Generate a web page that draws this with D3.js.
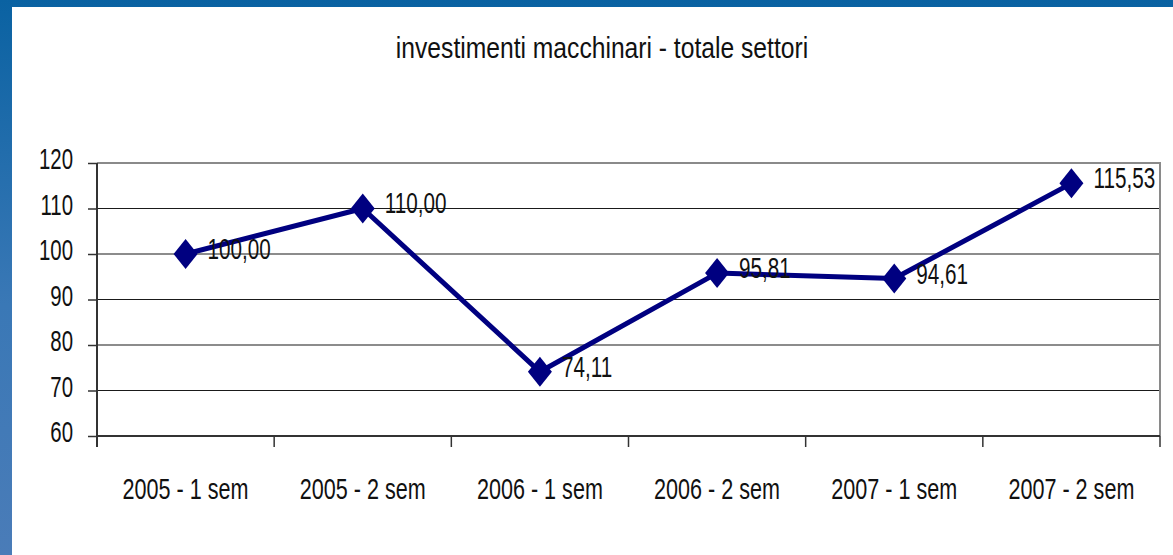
<!DOCTYPE html>
<html>
<head>
<meta charset="utf-8">
<script src="https://cdn.jsdelivr.net/npm/d3@7"></script>
<style>
  body { margin: 0; background: #fff; }
  text { font-family: 'Liberation Sans', Arial, sans-serif; fill: #111; }
</style>
</head>
<body>
<svg class="chart"></svg>
<script>
// Chart data
var categories = ['2005 - 1 sem', '2005 - 2 sem', '2006 - 1 sem', '2006 - 2 sem', '2007 - 1 sem', '2007 - 2 sem'];
var values = [100.00, 110.00, 74.11, 95.81, 94.61, 115.53];
var yTicks = [60, 70, 80, 90, 100, 110, 120];
var title = 'investimenti macchinari - totale settori';

// Global setup
var W = 1173, H = 555;
var margin = {top: 163, right: 13, bottom: 119, left: 97};
var width = W - margin.left - margin.right;
var height = H - margin.top - margin.bottom;
var fmt = function (v) { return v.toFixed(2).replace('.', ','); };

// The original font is a narrow one: squeeze text horizontally
function squeeze (sel, f) {
  sel.each(function () {
    var t = d3.select(this);
    t.attr('x', (+t.attr('x') || 0) / f).attr('transform', 'scale(' + f + ',1)');
  });
}

var svg = d3.select('.chart').attr('width', W).attr('height', H);

// Blue slide background and white panel
var grad = svg.append('defs').append('linearGradient')
  .attr('id', 'bg').attr('x1', 0).attr('y1', 0).attr('x2', 0).attr('y2', 1);
grad.append('stop').attr('offset', '0%').attr('stop-color', '#0a62a2');
grad.append('stop').attr('offset', '55%').attr('stop-color', '#3a78b6');
grad.append('stop').attr('offset', '100%').attr('stop-color', '#4a7cb8');
svg.append('rect').attr('width', W).attr('height', H).attr('fill', 'url(#bg)');
svg.append('rect').attr('x', 12).attr('y', 7).attr('width', W - 12).attr('height', H - 7).attr('fill', '#fff');

svg.append('text')
  .attr('x', 602).attr('y', 58)
  .attr('text-anchor', 'middle')
  .style('font-size', '29px')
  .text(title)
  .call(squeeze, 0.85);

var x = d3.scaleBand().domain(categories).range([0, width]);
var y = d3.scaleLinear().domain([60, 120]).range([height, 0]);

var g = svg.append('g').attr('transform', 'translate(' + margin.left + ',' + margin.top + ')');

// Gridlines
g.selectAll('.grid')
  .data(yTicks.slice(1, -1))
  .enter().append('line')
  .attr('x1', 0).attr('x2', width)
  .attr('y1', function (d) { return y(d); }).attr('y2', function (d) { return y(d); })
  .attr('stroke', '#1a1a1a').attr('stroke-width', 1.2);

// Top and right border
g.append('path')
  .attr('d', 'M0,' + y(120) + 'H' + width + 'V' + height)
  .attr('fill', 'none').attr('stroke', '#8a8a8a').attr('stroke-width', 2);

// Y axis
var yAxis = d3.axisLeft(y).tickValues(yTicks).tickSize(9).tickPadding(15);
var gy = g.append('g').call(yAxis);
gy.select('.domain').attr('stroke', '#333').attr('stroke-width', 2).attr('d', 'M0,' + y(120) + 'V' + (height + 11));
gy.selectAll('.tick line').attr('stroke', '#333').attr('stroke-width', 1.5);
gy.selectAll('.tick text')
  .style('font-size', '30px')
  .attr('dy', '0.19em')
  .call(squeeze, 0.68);

// X axis: ticks at category boundaries
var gx = g.append('g').attr('transform', 'translate(0,' + height + ')');
gx.append('line').attr('x1', 0).attr('x2', width).attr('stroke', '#333').attr('stroke-width', 2);
gx.selectAll('.xtick')
  .data(categories.concat(['end']))
  .enter().append('line')
  .attr('x1', function (d, i) { return i * x.step(); })
  .attr('x2', function (d, i) { return i * x.step(); })
  .attr('y1', 0).attr('y2', 11)
  .attr('stroke', '#333').attr('stroke-width', 1.5);
gx.selectAll('.xlabel')
  .data(categories)
  .enter().append('text')
  .attr('x', function (d) { return x(d) + x.bandwidth() / 2; })
  .attr('y', 63)
  .attr('text-anchor', 'middle')
  .style('font-size', '30px')
  .text(function (d) { return d; })
  .call(squeeze, 0.72);

// Line
var line = d3.line()
  .x(function (d, i) { return x(categories[i]) + x.bandwidth() / 2; })
  .y(function (d) { return y(d); });

g.append('path')
  .datum(values)
  .attr('d', line)
  .attr('fill', 'none')
  .attr('stroke', '#000080')
  .attr('stroke-width', 5)
  .attr('stroke-linejoin', 'round');

// Diamond markers
g.selectAll('.marker')
  .data(values)
  .enter().append('path')
  .attr('transform', function (d, i) {
    return 'translate(' + (x(categories[i]) + x.bandwidth() / 2) + ',' + y(d) + ')';
  })
  .attr('d', 'M0,-15L12,0L0,15L-12,0Z')
  .attr('fill', '#000080');

// Value labels
g.selectAll('.vlabel')
  .data(values)
  .enter().append('text')
  .attr('x', function (d, i) { return x(categories[i]) + x.bandwidth() / 2 + 22; })
  .attr('y', function (d) { return y(d) + 5; })
  .style('font-size', '30px')
  .text(fmt)
  .call(squeeze, 0.69);
</script>
</body>
</html>
